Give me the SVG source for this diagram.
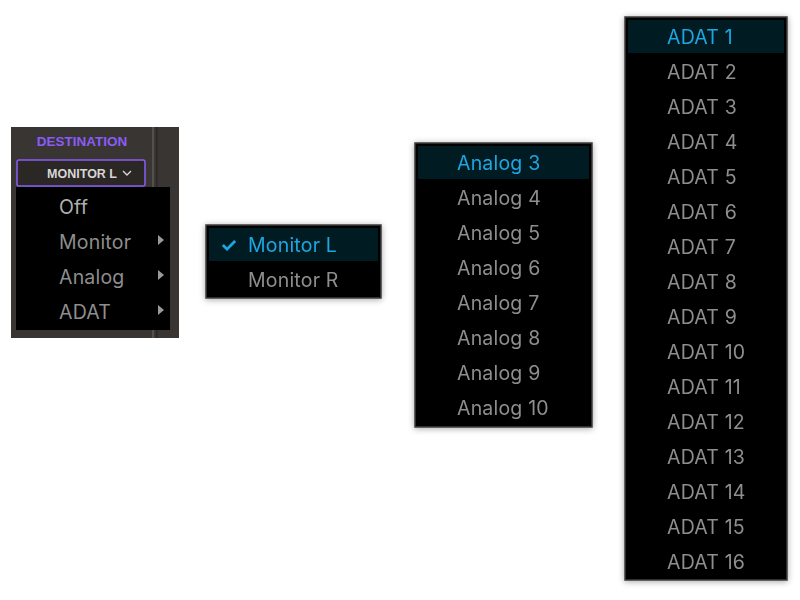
<svg xmlns="http://www.w3.org/2000/svg" width="800" height="600" viewBox="0 0 800 600">
<style>
.m{fill:#000;stroke:#3c3c3c;stroke-width:1.5}
.hl{fill:#061b22}
.t{font-family:Inter,"Liberation Sans",sans-serif;font-size:19.5px;letter-spacing:0.2px;fill:#8e8e8e}
.a{fill:#1ba6e2}
.tri{fill:#9a9a9a}
</style>
<defs><filter id="sh" x="-20%" y="-20%" width="140%" height="140%"><feDropShadow dx="0" dy="1" stdDeviation="3" flood-opacity="0.35"/></filter></defs>
<g id="panel1">
<rect x="11" y="127" width="168" height="211" fill="#393532"/>
<rect x="152" y="127" width="2" height="211" fill="#55504c"/>
<rect x="156" y="127" width="1.5" height="211" fill="#2a2725"/>
<text x="82" y="146" text-anchor="middle" font-family="'Liberation Sans',sans-serif" font-weight="bold" font-size="13.5" fill="#8a5cf7">DESTINATION</text>
<rect x="17" y="160" width="128" height="26" rx="2" fill="#2a2725" stroke="#8a5cf7" stroke-width="1.5"/>
<text x="117" y="178" text-anchor="end" font-family="'Liberation Sans',sans-serif" font-weight="bold" font-size="12.5" fill="#d6d6d6">MONITOR L</text>
<path d="M123 171 l4 4 l4 -4" fill="none" stroke="#d6d6d6" stroke-width="1.4"/>
<rect x="16" y="187" width="154" height="143" fill="#000"/>
<text class="t" x="59" y="214" style="fill:#b0b0b0">Off</text>
<text class="t" x="59" y="249">Monitor</text>
<text class="t" x="59" y="284">Analog</text>
<text class="t" x="59" y="319">ADAT</text>
<path class="tri" d="M158 235 l6 5 l-6 5z"/>
<path class="tri" d="M158 270 l6 5 l-6 5z"/>
<path class="tri" d="M158 305 l6 5 l-6 5z"/>
</g>
<g id="panel2" filter="url(#sh)">
<rect class="m" x="206" y="225" width="175" height="73"/>
<rect class="hl" x="209" y="228" width="169" height="33"/>
<text class="t a" x="220" y="252" font-weight="bold">✓</text>
<text class="t a" x="248" y="252">Monitor L</text>
<text class="t" x="248" y="287">Monitor R</text>
</g>
<g id="panel3" filter="url(#sh)">
<rect class="m" x="415" y="143" width="177" height="284"/>
<rect class="hl" x="418" y="146" width="171" height="33"/>
<text class="t a" x="457" y="170">Analog 3</text>
<text class="t" x="457" y="205">Analog 4</text>
<text class="t" x="457" y="240">Analog 5</text>
<text class="t" x="457" y="275">Analog 6</text>
<text class="t" x="457" y="310">Analog 7</text>
<text class="t" x="457" y="345">Analog 8</text>
<text class="t" x="457" y="380">Analog 9</text>
<text class="t" x="457" y="415">Analog 10</text>
</g>
<g id="panel4" filter="url(#sh)">
<rect class="m" x="625" y="17" width="162" height="563"/>
<rect class="hl" x="628" y="20" width="156" height="33"/>
<text class="t a" x="667" y="44">ADAT 1</text>
<text class="t" x="667" y="79">ADAT 2</text>
<text class="t" x="667" y="114">ADAT 3</text>
<text class="t" x="667" y="149">ADAT 4</text>
<text class="t" x="667" y="184">ADAT 5</text>
<text class="t" x="667" y="219">ADAT 6</text>
<text class="t" x="667" y="254">ADAT 7</text>
<text class="t" x="667" y="289">ADAT 8</text>
<text class="t" x="667" y="324">ADAT 9</text>
<text class="t" x="667" y="359">ADAT 10</text>
<text class="t" x="667" y="394">ADAT 11</text>
<text class="t" x="667" y="429">ADAT 12</text>
<text class="t" x="667" y="464">ADAT 13</text>
<text class="t" x="667" y="499">ADAT 14</text>
<text class="t" x="667" y="534">ADAT 15</text>
<text class="t" x="667" y="569">ADAT 16</text>
</g>
</svg>
